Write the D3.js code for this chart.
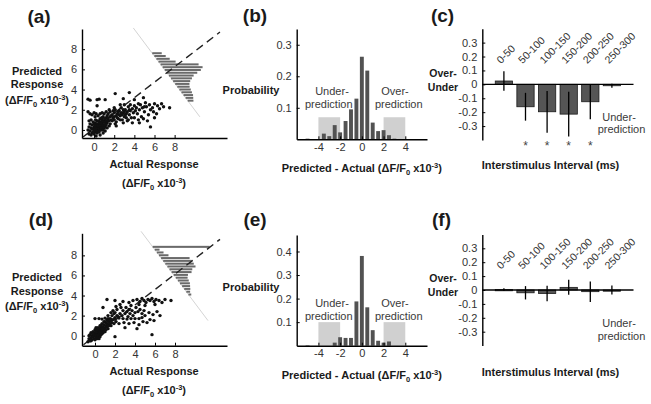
<!DOCTYPE html>
<html><head><meta charset="utf-8">
<script src="https://cdn.jsdelivr.net/npm/d3@7"></script>
<style>
body{margin:0;background:#fff;}
svg text{font-family:"Liberation Sans",Arial,sans-serif;}
</style></head><body>
<svg id="fig" width="651" height="404"></svg>
<script>
// ---------------- DATA ----------------
// Panel (a): actual vs predicted response (x10^-3)
const scatterA = [
[-0.5,-0.4],[-0.4,-0.1],[-0.3,0.2],[-0.2,-0.3],[-0.1,0.1],[0,0.3],[0.1,-0.2],[0.2,0.4],[0.3,0.1],[0.4,0.6],[0.5,0.2],[0.6,0.8],[0.7,0.4],[0.8,1.0],[0.9,0.5],[1.0,0.9],[1.1,0.3],[1.2,1.2],[1.3,0.7],[1.4,1.1],
[-0.6,0.0],[-0.5,0.3],[-0.3,-0.5],[-0.2,0.5],[0,-0.4],[0.1,0.7],[0.2,0.0],[0.3,0.9],[0.4,-0.1],[0.5,0.5],[0.6,1.1],[0.7,0.0],[0.8,0.6],[0.9,1.3],[1.0,0.2],[1.1,0.8],[1.2,0.5],[1.3,1.4],[1.5,0.9],[1.6,1.3],
[-0.4,0.6],[-0.1,0.8],[0.0,0.6],[0.15,1.0],[0.25,0.6],[0.35,0.3],[0.45,0.9],[0.55,0.0],[0.65,0.6],[0.75,1.2],[0.85,0.2],[0.95,0.8],[1.05,1.1],[1.15,0.6],[1.25,0.9],[0.05,0.1],[0.15,0.3],[0.25,-0.1],[0.35,0.5],[0.45,0.2],
[0.55,0.7],[0.65,0.3],[0.75,0.8],[0.85,0.5],[0.95,0.3],[0.2,0.2],[0.3,0.35],[0.4,0.4],[0.5,0.35],[0.6,0.45],[0.7,0.65],[0.1,0.45],[0.0,0.0],[-0.1,-0.2],[-0.2,0.1],[0.3,-0.3],[0.5,-0.2],[0.7,0.2],[0.9,0.0],[1.1,0.5],
[-0.3,1.0],[-0.5,0.9],[0.1,1.3],[0.4,1.4],[0.6,1.6],[0.8,1.7],[1.0,1.6],[1.2,1.8],[1.4,1.6],[1.6,0.6],[1.7,1.0],[1.8,1.5],[1.9,1.2],[2.0,1.7],[1.5,0.4],[1.3,0.2],[0.2,-0.6],[0.6,-0.5],[0.9,-0.3],[1.1,-0.1],
[-0.6,1.8],[-0.4,1.6],[0.0,1.7],[0.2,1.6],[-0.2,1.5],[0.3,2.4],[-0.6,3.05],[-0.4,2.95],[0.3,3.0],[0.5,3.05],[1.1,3.0],[2.1,3.6],[3.5,3.7],[2.9,3.1],[4.0,3.0],[4.9,3.2],
[1.6,1.8],[1.8,0.9],[2.0,1.3],[2.1,2.0],[2.2,0.8],[2.3,1.6],[2.4,1.1],[2.5,1.9],[2.6,1.4],[2.7,2.2],[2.8,1.0],[2.9,1.7],[3.0,1.3],[3.1,2.0],[3.2,1.6],[3.3,0.9],[3.4,2.3],[3.5,1.5],[3.6,1.9],[3.7,1.2],
[3.8,2.1],[3.9,1.7],[4.0,2.4],[2.0,1.0],[2.2,1.4],[2.4,1.8],[2.6,1.0],[2.8,1.5],[3.0,1.8],[3.2,1.2],[1.7,1.4],[1.9,1.9],[2.1,0.6],[2.3,1.2],[2.5,1.5],[2.7,1.7],[2.9,2.0],[3.1,1.5],[3.3,1.8],[3.5,2.0],
[1.5,2.0],[2.0,2.2],[2.6,2.5],[3.0,2.5],[3.6,2.5],[2.2,0.4],[2.9,0.7],[3.4,1.0],[3.8,0.7],[4.0,1.2],
[4.2,2.2],[4.3,1.6],[4.5,2.0],[4.6,2.5],[4.7,1.3],[4.8,2.2],[5.0,1.8],[5.1,2.7],[5.2,2.3],[5.4,1.5],[5.5,2.5],[5.6,2.0],[5.8,2.2],[6.0,2.6],[6.2,1.6],[6.3,2.4],[6.5,2.1],[6.7,2.6],[6.9,2.3],[7.5,2.2],
[4.4,1.0],[4.5,0.7],[4.9,1.1],[5.3,0.9],[5.6,0.3],[6.0,1.2],[4.1,1.9],[4.4,2.6],[5.0,2.3],[5.9,1.8]
];
// Panel (d)
const scatterD = [
[-0.7,-0.6],[-0.6,-0.3],[-0.5,-0.5],[-0.4,-0.2],[-0.3,-0.4],[-0.3,0.0],[-0.2,-0.1],[-0.1,0.2],[-0.1,-0.3],[0,0.0],[0,0.3],[0.1,0.1],[0.1,-0.2],[0.2,0.4],[0.2,0.0],[0.3,0.2],[0.3,0.5],[0.4,0.3],[0.4,0.0],[0.5,0.6],
[0.5,0.2],[0.6,0.4],[0.6,0.8],[0.7,0.5],[0.7,0.2],[0.8,0.9],[0.8,0.6],[0.9,0.7],[0.9,1.1],[1.0,0.8],[1.0,0.4],[1.1,1.0],[1.1,1.3],[1.2,0.9],[1.2,1.2],[1.3,1.1],[1.3,0.7],[1.4,1.4],[1.4,1.0],[1.5,1.2],
[1.6,1.5],[1.6,1.0],[1.7,1.3],[1.8,1.6],[1.9,1.2],[2.0,1.8],[2.1,1.4],[2.2,2.0],
[-0.5,0.1],[-0.4,0.3],[-0.2,0.4],[0.0,0.6],[0.1,0.8],[0.2,-0.3],[0.3,-0.1],[0.5,-0.1],[0.6,0.1],[0.8,0.3],[0.15,0.2],[0.25,0.1],[0.35,0.35],[0.45,0.45],[0.55,0.4],[0.65,0.6],[0.75,0.7],[0.05,0.15],[-0.05,0.05],[0.1,0.4],
[0.2,0.6],[0.4,0.7],[0.6,1.0],[0.7,1.2],[0.9,0.4],[1.0,1.4],[1.2,1.6],[1.5,1.7],[1.7,2.0],[1.9,2.2],[-0.6,0.0],[-0.2,0.2],[0.3,0.8],[0.5,1.0],[0.9,1.4],[1.1,0.6],[1.3,1.5],[0.0,-0.4],[0.4,-0.3],[-0.4,-0.5],
[0.0,1.7],[0.4,1.7],[0.7,1.65],[1.0,1.75],[1.3,1.7],[1.6,1.65],[2.0,1.7],[2.4,1.75],[2.8,1.7],[3.2,1.65],[3.6,1.7],[4.0,1.7],[4.4,1.7],[4.7,1.8],
[1.8,2.5],[2.0,2.3],[2.2,2.6],[2.3,1.9],[2.5,2.2],[2.6,2.8],[2.7,2.0],[2.8,2.5],[3.0,2.2],[3.1,2.8],[3.2,2.4],[3.3,1.9],[3.4,2.6],[3.5,2.2],[3.7,2.5],[3.8,2.0],[4.0,2.3],[4.1,2.8],[4.3,2.4],[4.5,2.6],
[4.7,2.2],[4.9,2.5],[2.4,1.2],[2.9,1.3],[3.4,1.2],[3.9,1.3],[4.4,1.1],[4.8,1.4],[5.2,1.3],[5.5,1.6],[5.9,1.5],[5.0,2.0],[5.4,2.3],[5.8,2.1],[6.2,2.4],[6.5,2.0],[2.1,2.9],[1.6,2.3],[1.3,2.0],[3.6,3.0],[2.5,3.1],
[3.4,3.3],[3.8,3.5],[4.2,3.6],[4.5,3.4],[4.7,3.7],[4.9,3.5],[5.1,3.3],[5.3,3.6],[5.5,3.5],[5.7,3.7],[5.9,3.4],[6.1,3.6],[6.4,3.5],[6.7,3.3],[7.0,3.6],[7.6,3.5],[5.0,3.0],[6.0,3.1],[4.4,3.1],
[1.2,3.6],[2.0,3.5],[2.8,3.4],[0.8,2.8],[5.7,0.1],[2.0,-0.1],[3.0,0.8],[4.2,0.7]
];
// reference dashed line and inset (predicted - actual) histograms
const diagA = [[-1.1,-0.7],[12.5,9.7]];
const diagD = [[-1.15,-0.9],[12.5,9.6]];
const antiA = [[3.9,10.1],[10.5,1.3]];
const antiD = [[4.6,10.4],[11.3,1.5]];
const insetA = [0.05,0.06,0.07,0.09,0.2,0.21,0.19,0.16,0.13,0.11,0.09,0.075,0.065,0.06,0.055,0.05,0.04,0.03];
const insetD = [0.3,0.025,0.035,0.05,0.15,0.15,0.15,0.148,0.12,0.105,0.075,0.062,0.057,0.052,0.042,0.032,0.02,0.015];
const scatterTicks = [0,2,4,6,8];

// Panels (b),(e): histogram of Predicted - Actual
const bins = [-5,-4.5,-4,-3.5,-3,-2.5,-2,-1.5,-1,-0.5,0,0.5,1,1.5,2,2.5,3,3.5];
const probB = [0.002,0,0,0.018,0.01,0.045,0.022,0.058,0.095,0.129,0.262,0.218,0.053,0.026,0.029,0.013,0.002,0.001];
const probE = [0.002,0,0,0,0,0.013,0.036,0.033,0.033,0.188,0.381,0.163,0.066,0.021,0.013,0.018,0,0];
const histXTicks = [-4,-2,0,2,4];
const histYTicksB = [0.1,0.2,0.3];
const histYTicksE = [0.1,0.2,0.3,0.4];
const shadeRanges = [[-4,-2],[2,4]];

// Panels (c),(f): Over-Under vs interstimulus interval
const isiLabels = ["0-50","50-100","100-150","150-200","200-250","250-300"];
const overUnderC = [0.024,-0.161,-0.197,-0.214,-0.125,-0.01];
const errC = [0.07,0.1,0.15,0.16,0.125,0.014];
const sigC = [0,1,1,1,1,0];
const overUnderF = [0.003,-0.02,-0.025,0.019,-0.012,0.0];
const errF = [0.01,0.048,0.056,0.054,0.074,0.032];
const sigF = [0,0,0,0,0,0];
const ouTicks = [-0.3,-0.2,-0.1,0,0.1,0.2,0.3];

// ---------------- DRAWING ----------------
const svg = d3.select("#fig");
const FONT = '"Liberation Sans",Arial,sans-serif';

function styleAxis(g){
  g.attr("font-size",11).attr("font-family",FONT);
  g.select(".domain").attr("stroke","#000").attr("stroke-width",1.4);
  g.selectAll(".tick line").attr("stroke","#000").attr("stroke-width",1);
  g.selectAll(".tick text").attr("fill","#333");
}
function bold(x,y,txt,anchor,size){
  return svg.append("text").attr("x",x).attr("y",y).attr("text-anchor",anchor||"middle")
    .attr("font-weight","bold").attr("font-size",size||11).attr("fill","#1a1a1a").text(txt);
}
function plain(x,y,txt,anchor,size){
  return svg.append("text").attr("x",x).attr("y",y).attr("text-anchor",anchor||"middle")
    .attr("font-size",size||11).attr("fill","#3a3a3a").text(txt);
}
function dfLabel(x,y,anchor,prefix){
  const t = svg.append("text").attr("x",x).attr("y",y).attr("text-anchor",anchor)
    .attr("font-weight","bold").attr("font-size",11).attr("fill","#1a1a1a");
  t.append("tspan").text(prefix+"(\u0394F/F");
  t.append("tspan").attr("font-size",7.5).attr("dy",2.5).text("0");
  t.append("tspan").attr("dy",-2.5).text(" x10");
  t.append("tspan").attr("font-size",7.5).attr("dy",-4.5).text("-3");
  t.append("tspan").attr("dy",4.5).text(")");
}

function scatterPanel(p){
  const x = d3.scaleLinear().domain(p.xd).range([82,227]);
  const y = d3.scaleLinear().domain(p.yd).range(p.yr);
  const g = svg.append("g");
  g.append("line").attr("x1",x(p.anti[0][0])).attr("y1",y(p.anti[0][1]))
    .attr("x2",x(p.anti[1][0])).attr("y2",y(p.anti[1][1]))
    .attr("stroke","#d4d4d4").attr("stroke-width",1);
  const ax1=x(p.anti[0][0]), ay1=y(p.anti[0][1]), ax2=x(p.anti[1][0]), ay2=y(p.anti[1][1]);
  const rows = d3.scaleBand().domain(d3.range(p.inset.length))
    .range([y(p.insetY[0]), y(p.insetY[1])]).paddingInner(0.28);
  const len = d3.scaleLinear().domain([0,0.1]).range([0,19]);
  g.selectAll("rect.ins").data(p.inset).join("rect").attr("class","ins")
    .attr("y",(d,i)=>rows(i)).attr("height",rows.bandwidth())
    .attr("x",(d,i)=>{const yc=rows(i)+rows.bandwidth()/2; return ax1+(yc-ay1)*(ax2-ax1)/(ay2-ay1);})
    .attr("width",d=>len(d)).attr("fill","#6a6a6a");
  g.append("line").attr("x1",x(p.diag[0][0])).attr("y1",y(p.diag[0][1]))
    .attr("x2",x(p.diag[1][0])).attr("y2",y(p.diag[1][1]))
    .attr("stroke","#222").attr("stroke-width",1.4).attr("stroke-dasharray","8,5");
  g.selectAll("circle").data(p.pts).join("circle")
    .attr("cx",d=>x(d[0])).attr("cy",d=>y(d[1])).attr("r",1.7).attr("fill","#111");
  g.append("g").attr("transform",`translate(0,${p.yr[0]})`)
    .call(d3.axisBottom(x).tickValues(scatterTicks).tickSizeInner(-3).tickSizeOuter(0).tickPadding(5).tickFormat(d3.format("d")))
    .call(styleAxis);
  g.append("g").attr("transform",`translate(82,0)`)
    .call(d3.axisLeft(y).tickValues(scatterTicks).tickSizeInner(-3).tickSizeOuter(0).tickPadding(5).tickFormat(d3.format("d")))
    .call(styleAxis);
  bold(p.tx,p.ty,p.title,"middle",19);
  bold(37,p.ly,"Predicted");
  bold(37,p.ly+13.3,"Response");
  dfLabel(37,p.ly+29,"middle","");
  bold(154,p.xly,"Actual Response");
  dfLabel(154,p.xly+19,"middle","");
}

function histPanel(p){
  const x = d3.scaleLinear().domain([-6,6]).range([296.7,427]);
  const y = d3.scaleLinear().domain([0,p.ymax]).range([p.y0,p.ytop]);
  const g = svg.append("g");
  g.selectAll("rect.sh").data(shadeRanges).join("rect").attr("class","sh")
    .attr("x",d=>x(d[0])).attr("width",d=>x(d[1])-x(d[0]))
    .attr("y",y(p.shadeH)).attr("height",y(0)-y(p.shadeH)).attr("fill","#d0d0d0");
  const w = 0.36;
  g.selectAll("rect.b").data(p.probs).join("rect").attr("class","b")
    .attr("x",(d,i)=>x(bins[i]-w/2)).attr("width",x(w)-x(0))
    .attr("y",d=>y(d)).attr("height",d=>y(0)-y(d)).attr("fill","#525252");
  g.append("g").attr("transform",`translate(0,${p.y0})`)
    .call(d3.axisBottom(x).tickValues(histXTicks).tickSizeInner(-3).tickSizeOuter(0).tickPadding(4).tickFormat(d=>String(d)))
    .call(styleAxis);
  g.append("g").attr("transform",`translate(296.7,0)`)
    .call(d3.axisLeft(y).tickValues(p.yticks).tickSizeInner(-3).tickSizeOuter(0).tickPadding(5).tickFormat(d=>String(d)))
    .call(styleAxis);
  plain(x(-2.75),p.ty1,"Under-");
  plain(x(-3.05),p.ty1+13.5,"prediction");
  plain(x(3.05),p.ty1,"Over-");
  plain(x(3.4),p.ty1+13.5,"prediction");
  bold(251,p.py,"Probability");
  bold(p.tx,p.ty,p.title,"middle",19);
  dfLabel(281.7,p.xly,"start","Predicted - Actual ");
}

function ouPanel(p){
  const x = d3.scaleLinear().domain([0,7]).range([482.3,633.5]);
  const y = d3.scaleLinear().domain([-0.4,0.4]).range([p.ybot,p.ytop]);
  const g = svg.append("g");
  const bw = 0.8;
  g.selectAll("rect.ou").data(p.vals).join("rect").attr("class","ou")
    .attr("x",(d,i)=>x(i+1-bw/2)).attr("width",x(bw)-x(0))
    .attr("y",d=>y(Math.max(d,0))).attr("height",d=>Math.max(1.2,Math.abs(y(d)-y(0))))
    .attr("fill","#555").attr("stroke","#1a1a1a").attr("stroke-width",0.8);
  g.append("line").attr("x1",x(0)).attr("x2",x(7)).attr("y1",y(0)).attr("y2",y(0))
    .attr("stroke","#000").attr("stroke-width",1.4);
  g.selectAll("line.err").data(p.vals).join("line").attr("class","err")
    .attr("x1",(d,i)=>x(i+1)).attr("x2",(d,i)=>x(i+1))
    .attr("y1",(d,i)=>y(d+p.err[i])).attr("y2",(d,i)=>y(d-p.err[i]))
    .attr("stroke","#000").attr("stroke-width",1.3);
  g.selectAll("text.cat").data(isiLabels).join("text").attr("class","cat")
    .attr("transform",(d,i)=>`translate(${x(i+1)-3},${y(0.145)}) rotate(-45)`)
    .attr("font-size",10.5).attr("fill","#333").text(d=>d);
  g.selectAll("text.sig").data(p.sig.map((s,i)=>({s,i})).filter(d=>d.s)).join("text").attr("class","sig")
    .attr("x",d=>x(d.i+1)).attr("y",p.ybot+10).attr("text-anchor","middle")
    .attr("font-size",12).attr("fill","#444").text("*");
  g.append("g").attr("transform",`translate(482.3,0)`)
    .call(d3.axisLeft(y).tickValues(ouTicks).tickSizeInner(-3).tickSizeOuter(0).tickPadding(5).tickFormat(d=>String(d)))
    .call(styleAxis);
  bold(443,y(0)-7.8,"Over-","middle",10.5);
  bold(443,y(0)+6.2,"Under","middle",10.5);
  plain(619,p.uy,"Under-");
  plain(621.5,p.uy+12.7,"prediction");
  bold(481.7,p.xly,"Interstimulus Interval (ms)","start");
  bold(p.tx,p.ty,p.title,"middle",19);
}

scatterPanel({xd:[-1.2,13.2], yd:[-0.8,10], yr:[138,29], pts:scatterA, diag:diagA, anti:antiA,
  inset:insetA, insetY:[7.7,2.8], title:"(a)", tx:39, ty:23, ly:75, xly:168.3});
scatterPanel({xd:[-1.3,13.2], yd:[-1,10.2], yr:[345.7,233.3], pts:scatterD, diag:diagD, anti:antiD,
  inset:insetD, insetY:[8.95,4.0], title:"(d)", tx:41, ty:226, ly:281.3, xly:375});
histPanel({probs:probB, ymax:0.35, y0:139.3, ytop:29, shadeH:0.07, yticks:histYTicksB,
  ty1:94.5, py:94, title:"(b)", tx:255, ty:21.5, xly:172});
histPanel({probs:probE, ymax:0.47, y0:345.7, ytop:235, shadeH:0.1, yticks:histYTicksE,
  ty1:306.5, py:290.5, title:"(e)", tx:255, ty:226, xly:379});
ouPanel({vals:overUnderC, err:errC, sig:sigC, ybot:140, ytop:28.7, uy:120.5, xly:169,
  title:"(c)", tx:442.5, ty:22});
ouPanel({vals:overUnderF, err:errF, sig:sigF, ybot:345.6, ytop:234.4, uy:327.3, xly:375.5,
  title:"(f)", tx:441.5, ty:226});
</script>
</body></html>
